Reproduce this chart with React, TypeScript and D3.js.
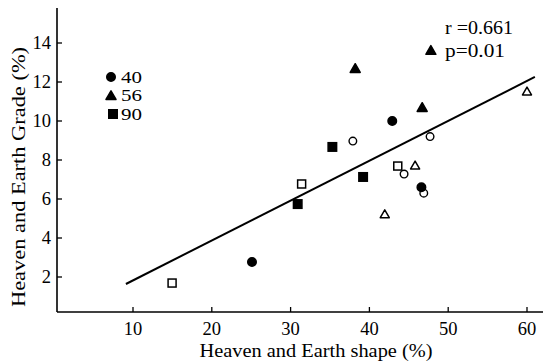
import React from "react";
import * as d3 from "d3";

const filledCircles = [[25.1, 2.77], [42.9, 10.0], [46.6, 6.6]];
const openCircles = [[37.9, 8.97], [47.7, 9.2], [44.4, 7.28], [46.9, 6.3]];
const filledTriangles = [[38.2, 12.67], [47.8, 13.6], [46.7, 10.67]];
const openTriangles = [[45.8, 7.7], [41.95, 5.2], [60.0, 11.5]];
const filledSquares = [[35.3, 8.67], [39.2, 7.13], [30.9, 5.74]];
const openSquares = [[31.4, 6.77], [43.6, 7.69], [14.96, 1.69]];
const xTicks = [10, 20, 30, 40, 50, 60];
const yTicks = [2, 4, 6, 8, 10, 12, 14];
const legendLabels = ["40", "56", "90"];
const fitX = [9.1, 61.0];
const fitSlope = 0.2046;
const fitIntercept = -0.22;
const statLines = ["r =0.661", "p=0.01"];

const W = 543, H = 361;
const x = d3.scaleLinear().domain([0, 62]).range([54.2, 54.2 + 7.88 * 62]);
const y = d3.scaleLinear().domain([0, 15.8]).range([316, 316 - 19.5 * 15.8]);
const AX = 57, AY = 312;
const font = "'Liberation Serif', 'Times New Roman', serif";

function Tri({ cx, cy, filled }: { cx: number; cy: number; filled: boolean }) {
  const s = filled ? 10 : 9;
  const h = s * 0.87;
  const p = `M${cx},${cy - h * 0.6}L${cx + s / 2},${cy + h * 0.4}L${cx - s / 2},${cy + h * 0.4}Z`;
  return <path d={p} fill={filled ? "#000" : "#fff"} stroke="#000" strokeWidth={1.5} strokeLinejoin="round" />;
}
function Sq({ cx, cy, filled }: { cx: number; cy: number; filled: boolean }) {
  const s = filled ? 8.5 : 8;
  return <rect x={cx - s / 2} y={cy - s / 2} width={s} height={s} fill={filled ? "#000" : "#fff"} stroke="#000" strokeWidth={1.5} />;
}
function Circ({ cx, cy, filled }: { cx: number; cy: number; filled: boolean }) {
  return <circle cx={cx} cy={cy} r={filled ? 4.3 : 3.8} fill={filled ? "#000" : "#fff"} stroke="#000" strokeWidth={1.4} />;
}

export default function App() {
  const line = d3.line<number>().x((v) => x(v)).y((v) => y(fitIntercept + fitSlope * v));
  return (
    <svg width={W} height={H} style={{ position: "absolute", left: 0, top: 0, background: "#fff" }} fontFamily={font}>
      <rect width={W} height={H} fill="#fff" />
      <line x1={AX} y1={8} x2={AX} y2={AY} stroke="#000" strokeWidth={1.6} />
      <line x1={AX} y1={AY} x2={543} y2={AY} stroke="#000" strokeWidth={1.6} />
      {yTicks.map((t) => (
        <g key={"y" + t}>
          <line x1={AX} x2={AX + 5} y1={y(t)} y2={y(t)} stroke="#000" strokeWidth={1.3} />
          <text x={AX - 6} y={y(t)} dy="0.35em" textAnchor="end" fontSize={18.5}>{t}</text>
        </g>
      ))}
      {xTicks.map((t) => (
        <g key={"x" + t}>
          <line x1={x(t)} x2={x(t)} y1={AY} y2={AY - 5} stroke="#000" strokeWidth={1.3} />
          <text x={x(t)} y={335} textAnchor="middle" fontSize={18.5}>{t}</text>
        </g>
      ))}
      <text x={316} y={357} textAnchor="middle" fontSize={18} textLength={233} lengthAdjust="spacingAndGlyphs">Heaven and Earth shape (%)</text>
      <text transform={`translate(25,177) rotate(-90)`} textAnchor="middle" fontSize={18} textLength={260} lengthAdjust="spacingAndGlyphs">Heaven and Earth Grade (%)</text>
      <path d={line(fitX) || ""} fill="none" stroke="#000" strokeWidth={2} />
      {openCircles.map((d, i) => <Circ key={"oc" + i} cx={x(d[0])} cy={y(d[1])} filled={false} />)}
      {openTriangles.map((d, i) => <Tri key={"ot" + i} cx={x(d[0])} cy={y(d[1])} filled={false} />)}
      {openSquares.map((d, i) => <Sq key={"os" + i} cx={x(d[0])} cy={y(d[1])} filled={false} />)}
      {filledCircles.map((d, i) => <Circ key={"fc" + i} cx={x(d[0])} cy={y(d[1])} filled={true} />)}
      {filledTriangles.map((d, i) => <Tri key={"ft" + i} cx={x(d[0])} cy={y(d[1])} filled={true} />)}
      {filledSquares.map((d, i) => <Sq key={"fs" + i} cx={x(d[0])} cy={y(d[1])} filled={true} />)}
      <Circ cx={111} cy={77} filled={true} />
      <Tri cx={111} cy={96} filled={true} />
      <Sq cx={113} cy={114} filled={true} />
      {legendLabels.map((l, i) => (
        <text key={l} x={121} y={77 + i * 18.5} dy="0.35em" fontSize={16.5} textLength={21} lengthAdjust="spacingAndGlyphs">{l}</text>
      ))}
      {statLines.map((s, i) => (
        <text key={s} x={445} y={34 + i * 23} fontSize={19} textLength={i === 0 ? 68 : 60} lengthAdjust="spacingAndGlyphs">{s}</text>
      ))}
    </svg>
  );
}
